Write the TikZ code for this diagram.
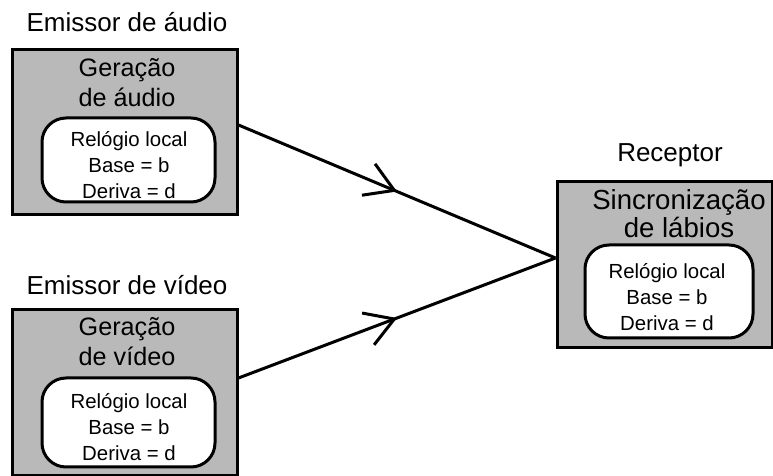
\documentclass[tikz,border=0pt]{standalone}
\usepackage{fontspec}
\setmainfont{Liberation Sans}
\usetikzlibrary{arrows.meta,decorations.markings}

\tikzset{
  unitbox/.style={draw=black, line width=1.5pt, fill=gray!55, inner sep=0pt},
  clockbox/.style={draw=black, line width=1.5pt, fill=white, rounded corners=12pt, inner sep=0pt},
  caption/.style={inner sep=0pt, font=\fontsize{13}{15}\selectfont},
  title/.style={inner sep=0pt, align=center, font=\fontsize{12.6}{15}\selectfont},
  clocktext/.style={inner sep=0pt, align=center, font=\fontsize{10.2}{12.9}\selectfont},
  flow/.style={line width=1.5pt,
    decoration={markings, mark=at position 0.5 with {\arrow[line width=1.5pt]{Straight Barb[length=14pt,width=17pt]}}},
    postaction={decorate}},
}

\begin{document}
\begin{tikzpicture}[x=0.5pt,y=-0.5pt]
  \useasboundingbox (0,0) rectangle (773,476);

  % audio sender
  \node[caption] (lblA) at (127,22) {Emissor de áudio};
  \node[unitbox, minimum width=112.5pt, minimum height=82.5pt] (audio) at (124.5,132.5) {};
  \node[title] (genA) at (127,83) {Geração\\de áudio};
  \node[clockbox, minimum width=86.5pt, minimum height=42pt] (clkA) at (128.5,160) {};
  \node[clocktext] (clkAt) at (129,165) {Relógio local\\Base = b\\Deriva = d};

  % video sender
  \node[caption] (lblV) at (127,285) {Emissor de vídeo};
  \node[unitbox, minimum width=112.5pt, minimum height=83pt] (video) at (124.5,393) {};
  \node[title] (genV) at (127,342) {Geração\\de vídeo};
  \node[clockbox, minimum width=86.5pt, minimum height=44.5pt] (clkV) at (128.5,422.5) {};
  \node[clocktext] (clkVt) at (129,427) {Relógio local\\Base = b\\Deriva = d};

  % receiver
  \node[caption] (lblR) at (670,155) {Receptor};
  \node[unitbox, minimum width=107.5pt, minimum height=83pt] (recv) at (664.5,265) {};
  \node[title, font=\fontsize{13.8}{14}\selectfont] (sync) at (679,214) {Sincronização\\de lábios};
  \node[clockbox, minimum width=84pt, minimum height=46.5pt] (clkR) at (669,291.5) {};
  \node[clocktext] (clkRt) at (667,297) {Relógio local\\Base = b\\Deriva = d};

  % connector end points on the box edges
  \coordinate (outA) at (audio.east |- 0,125);
  \coordinate (outV) at (video.east |- 0,378);
  \coordinate (inR) at (recv.west |- 0,258);

  \draw[flow] (outA) -- (inR);
  \draw[flow] (outV) -- (inR);
\end{tikzpicture}
\end{document}
